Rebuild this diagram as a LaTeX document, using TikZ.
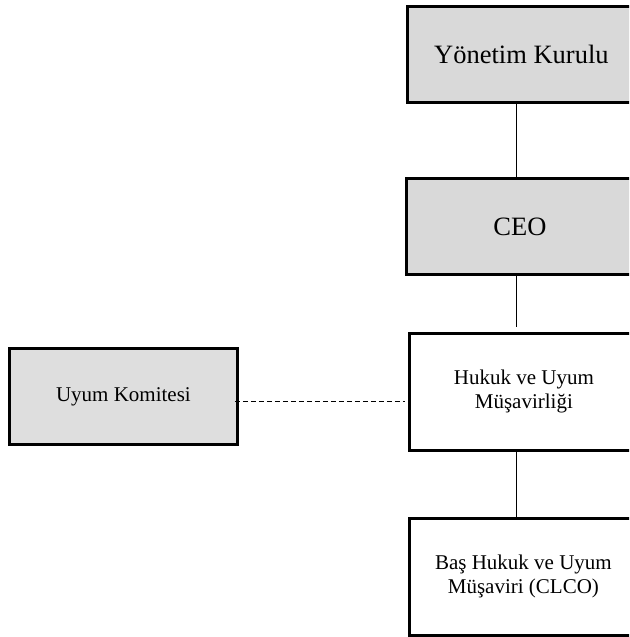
\documentclass[tikz,border=0pt]{standalone}
\usepackage{fontspec}
\setmainfont{Liberation Serif}
\definecolor{boxgray}{HTML}{D9D9D9}
\definecolor{boxgraylight}{HTML}{DEDEDE}
\begin{document}
\begin{tikzpicture}[x=1pt,y=-1pt,
  orgbox/.style={draw=black, line width=2.8pt, rectangle, inner sep=0pt, anchor=north west, align=center},
  bigtext/.style={font=\fontsize{26.5}{30}\selectfont},
  smalltext/.style={font=\fontsize{21}{24}\selectfont},
  conn/.style={draw=black, line width=0.9pt},
  dashconn/.style={draw=black, line width=0.9pt, dash pattern=on 5pt off 3pt}]
\useasboundingbox (0,0) rectangle (629,637);
\clip (0,0) rectangle (629,637);
\node[orgbox, fill=boxgray, bigtext, minimum width=228pt, minimum height=96pt] (yk) at (406,5) {Yönetim Kurulu};
\node[orgbox, fill=boxgray, bigtext, minimum width=227pt, minimum height=96pt] (ceo) at (405,177) {CEO};
\node[orgbox, fill=white, smalltext, minimum width=229pt, minimum height=117pt] (huk) at (408,332) {Hukuk ve Uyum\\Müşavirliği};
\node[orgbox, fill=boxgraylight, smalltext, minimum width=228pt, minimum height=96pt] (uk) at (8,347) {Uyum Komitesi};
\node[orgbox, fill=white, smalltext, minimum width=228pt, minimum height=117pt] (bas) at (408,517) {Baş Hukuk ve Uyum\\Müşaviri (CLCO)};
\draw[conn] (yk.south -| 516,0) -- (ceo.north -| 516,0);
\draw[conn, shorten >=5pt] (ceo.south -| 516,0) -- (huk.north -| 516,0);
\draw[conn] (huk.south -| 516,0) -- (bas.north -| 516,0);
\draw[dashconn] ([xshift=-4pt]uk.east |- 0,401) -- ([xshift=-3pt]huk.west |- 0,401);
\end{tikzpicture}
\end{document}
